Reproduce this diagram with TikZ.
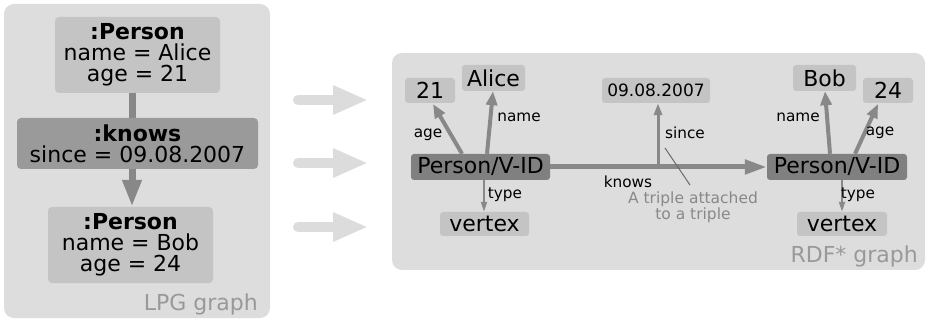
\documentclass[tikz,border=0pt]{standalone}
\usepackage{fontspec}
\setmainfont{DejaVu Sans}
\usetikzlibrary{arrows.meta}
\definecolor{panel}{HTML}{DDDDDD}
\definecolor{lightbox}{HTML}{C4C4C4}
\definecolor{midbox}{HTML}{9A9A9A}
\definecolor{darkbox}{HTML}{808080}
\definecolor{edgecol}{HTML}{888888}
\definecolor{faint}{HTML}{999999}
\definecolor{bigarrow}{HTML}{DCDCDC}
\definecolor{annot}{HTML}{6A6A6A}
\begin{document}
\begin{tikzpicture}[x=1pt,y=-1pt,
  panelbox/.style={fill=panel, rounded corners=10pt},
  lpgbox/.style={rounded corners=4pt, inner sep=0pt, align=center, font=\fontsize{22}{21}\selectfont},
  litbox/.style={fill=lightbox, rounded corners=3pt, inner sep=0pt, font=\fontsize{22}{24}\selectfont},
  idbox/.style={fill=darkbox, rounded corners=3pt, inner sep=0pt, font=\fontsize{22}{24}\selectfont},
  smalllbl/.style={font=\fontsize{15.3}{17}\selectfont, inner sep=0pt},
  bigedge/.style={draw=edgecol, line width=7pt, -{Triangle[length=27pt,width=18pt]}},
  propedge/.style={draw=edgecol, line width=4pt, -{Triangle[length=14pt,width=11pt]}},
  typeedge/.style={draw=edgecol, line width=2pt, -{Triangle[length=10pt,width=6pt]}},
  conv/.style={draw=bigarrow, line width=10pt, line cap=round, -{Triangle[length=35pt,width=27pt]}},
  graphlbl/.style={text=faint, font=\fontsize{22}{24}\selectfont, inner sep=0pt}
]
\useasboundingbox (0,0) rectangle (931,320);
% panels
\fill[panelbox] (4,4) rectangle (270,318);
\fill[panelbox] (392,53) rectangle (925,270);

% LPG graph
\node[lpgbox, fill=lightbox, minimum width=165pt, minimum height=76pt] (alice) at (137.5,55)
  {\textbf{:Person}\\name = Alice\\age = 21};
\node[lpgbox, fill=midbox, minimum width=241pt, minimum height=51pt] (knows) at (137.5,143.5)
  {\textbf{:knows}\\since = 09.08.2007};
\node[lpgbox, fill=lightbox, minimum width=165pt, minimum height=76pt] (bob) at (130.5,245)
  {\textbf{:Person}\\name = Bob\\age = 24};
\draw[edgecol, line width=7pt] (alice.south -| 132,0) -- (knows.north -| 132,0);
\draw[bigedge] (knows.south -| 132,0) -- (bob.north -| 132,0);
\node[graphlbl, anchor=base east] (lpglbl) at (258,310) {LPG graph};

% conversion arrows
\coordinate (c1s) at (298,100); \coordinate (c1e) at (368,100);
\coordinate (c2s) at (298,163); \coordinate (c2e) at (368,163);
\coordinate (c3s) at (298,227); \coordinate (c3e) at (368,227);
\draw[conv] (c1s) -- (c1e);
\draw[conv] (c2s) -- (c2e);
\draw[conv] (c3s) -- (c3e);

% RDF* graph
\node[litbox, minimum width=50pt, minimum height=25pt] (n21) at (430,90.5) {21};
\node[litbox, minimum width=63pt, minimum height=26pt] (nalice) at (493.5,78) {Alice};
\node[idbox, minimum width=139pt, minimum height=26pt] (p1) at (480.5,167) {Person/V-ID};
\node[litbox, minimum width=89pt, minimum height=24pt] (v1) at (484.5,224) {vertex};
\node[litbox, minimum width=108pt, minimum height=25pt, font=\fontsize{17}{19}\selectfont] (date) at (656,90.5) {09.08.2007};
\node[litbox, minimum width=63pt, minimum height=26pt] (nbob) at (824.5,78) {Bob};
\node[litbox, minimum width=50pt, minimum height=25pt] (n24) at (888,90.5) {24};
\node[idbox, minimum width=140pt, minimum height=26pt] (p2) at (837,167) {Person/V-ID};
\node[litbox, minimum width=90pt, minimum height=24pt] (v2) at (842,224) {vertex};

% edges left person
\draw[propedge] (p1.north -| 462,0) -- (433,104);
\draw[propedge] (p1.north -| 487,0) -- (nalice.south -| 493,0);
\draw[typeedge] (p1.south -| 484,0) -- (v1.north -| 484,0);
\node[smalllbl] (lage1) at (428,135) {age};
\node[smalllbl] (lname1) at (519,117) {name};
\node[smalllbl] (ltype1) at (505,195) {type};

% knows edge
\draw[draw=edgecol, line width=5pt, -{Triangle[length=22pt,width=14pt]}] (p1.east) -- (p2.west);
\coordinate (sincefoot) at (658,167);
\draw[draw=edgecol, line width=3pt, -{Triangle[length=12pt,width=8pt]}] (sincefoot) -- (date.south -| 658,0);
\node[smalllbl] (lsince) at (685,133) {since};
\node[smalllbl] (lknows) at (628,182) {knows};

% annotation
\node[smalllbl, text=edgecol, align=center, font=\fontsize{15.5}{15}\selectfont] (annot) at (693,207)
  {A triple attached\\to a triple};
\coordinate (annotA) at (665,148);
\coordinate (annotB) at (690,185);
\draw[annot, line width=1pt] (annotA) -- (annotB);

% edges right person
\draw[propedge] (p2.north -| 830,0) -- (nbob.south -| 825,0);
\draw[propedge] (p2.north -| 855,0) -- (878,104);
\draw[typeedge] (p2.south -| 842,0) -- (v2.north -| 842,0);
\node[smalllbl] (lname2) at (798,117) {name};
\node[smalllbl] (lage2) at (880,133) {age};
\node[smalllbl] (ltype2) at (858,195) {type};

\node[graphlbl, anchor=base east] (rdflbl) at (918,262) {RDF* graph};
\end{tikzpicture}
\end{document}
